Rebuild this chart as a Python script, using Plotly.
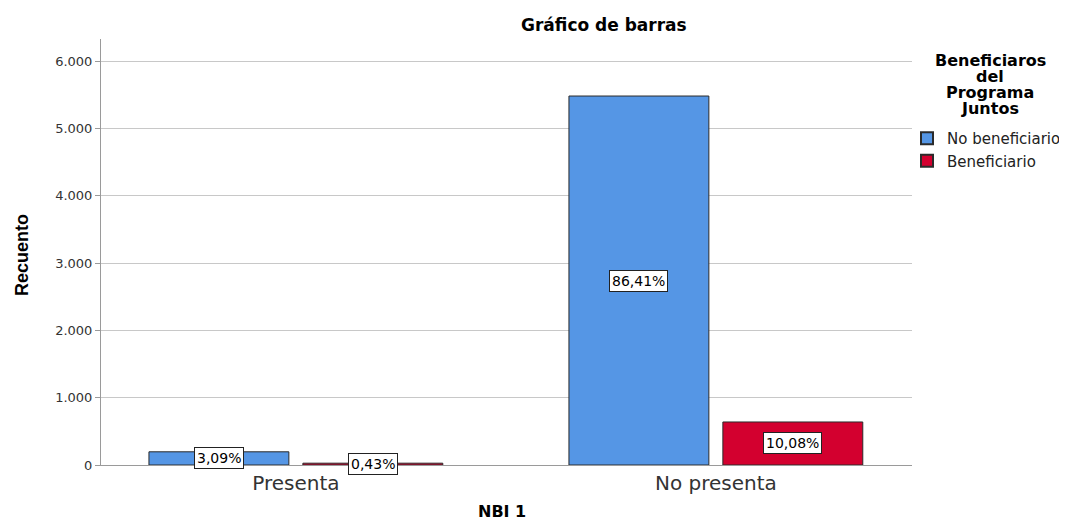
import plotly.graph_objects as go

categories = ["Presenta", "No presenta"]
series_names = ["No beneficiario", "Beneficiario"]
counts_no_benef = [196, 5480]
counts_benef = [27, 639]
pct_no_benef = ["3,09%", "86,41%"]
pct_benef = ["0,43%", "10,08%"]
y_ticks = [0, 1000, 2000, 3000, 4000, 5000, 6000]
legend_title_lines = ["Beneficiaros", "del", "Programa", "Juntos"]

colors = ["#5596E5", "#D3002F"]
dv = "DejaVu Sans, Verdana, sans-serif"
lib = "Liberation Sans, Arial, sans-serif"

# page has an 8px body margin; figure sized/margined so plot area lands at
# page x 101..912, y 39..465
W, H = 1059, 515
ML, MR, MT, MB = 93, 155, 31, 58
PW = W - ML - MR
PH = H - MT - MB

bargap = 0.267
bargroupgap = 0.091
slot = (1 - bargap) / 2

x_idx = list(range(len(categories)))
fig = go.Figure()
series = [counts_no_benef, counts_benef]
pcts = [pct_no_benef, pct_benef]
for s, (name, vals) in enumerate(zip(series_names, series)):
    fig.add_trace(go.Bar(
        x=x_idx, y=vals, name=name,
        marker=dict(color=colors[s], line=dict(color="#2b2b2b", width=1)),
        hoverinfo="skip",
    ))

annotations = []
for s, vals in enumerate(series):
    off = (s - 0.5) * slot
    for i, v in enumerate(vals):
        annotations.append(dict(
            x=x_idx[i] + off, y=v / 2, xref="x", yref="y",
            text=pcts[s][i], showarrow=False,
            font=dict(family=dv, size=14, color="#000"),
            bgcolor="white", bordercolor="#222", borderwidth=1, borderpad=2,
        ))

def px_x(page_x):
    return (page_x - 8 - ML) / PW

# chart title
annotations.append(dict(
    x=px_x(604), y=1, xref="paper", yref="paper", yanchor="middle",
    yshift=MT - (25 - 8),
    text="<b>Gráfico de barras</b>", showarrow=False,
    font=dict(family=dv, size=17, color="#000"),
))
# legend title lines
for k, line in enumerate(legend_title_lines):
    cy = 60 + 16 * k
    annotations.append(dict(
        x=px_x(990), y=1, xref="paper", yref="paper", yanchor="middle",
        xanchor="center", yshift=MT - (cy - 8),
        text="<b>" + line + "</b>", showarrow=False,
        font=dict(family=dv, size=16, color="#000"),
    ))
# x axis title
annotations.append(dict(
    x=px_x(502), y=0, xref="paper", yref="paper", yanchor="middle",
    yshift=-(511 - 8 - (H - MB)),
    text="<b>NBI 1</b>", showarrow=False,
    font=dict(family=dv, size=16, color="#000"),
))
# y axis title
annotations.append(dict(
    x=px_x(22), y=1, xref="paper", yref="paper", yanchor="middle",
    xanchor="center", yshift=MT - (255 - 8), textangle=-90,
    text="<b>Recuento</b>", showarrow=False,
    font=dict(family=lib, size=18, color="#000"),
))

fig.update_layout(
    width=W, height=H,
    margin=dict(l=ML, r=MR, t=MT, b=MB, autoexpand=False),
    paper_bgcolor="white", plot_bgcolor="white",
    separators=",.",
    barmode="group", bargap=bargap, bargroupgap=bargroupgap,
    font=dict(family=dv, color="#222"),
    annotations=annotations,
    legend=dict(
        x=px_x(907), xanchor="left",
        y=1 - (122 - 8 - MT) / PH, yanchor="top",
        bgcolor="rgba(0,0,0,0)",
        font=dict(family=dv, size=15, color="#222"),
        itemsizing="constant", tracegroupgap=0,
    ),
    xaxis=dict(
        tickmode="array", tickvals=x_idx, ticktext=categories,
        range=[-0.464, 1.467],
        showline=True, linecolor="#9a9a9a", linewidth=1,
        ticks="", showgrid=False, zeroline=False,
        tickfont=dict(family=dv, size=20, color="#333"),
    ),
    yaxis=dict(
        range=[0, 6327], tickvals=y_ticks, tickformat=",d",
        showline=True, linecolor="#9a9a9a", linewidth=1,
        ticks="outside", ticklen=5, tickcolor="#9a9a9a",
        showgrid=True, gridcolor="#c8c8c8", gridwidth=1, zeroline=False,
        tickfont=dict(family=dv, size=13, color="#333"),
    ),
)

fig.write_html("out.html")
